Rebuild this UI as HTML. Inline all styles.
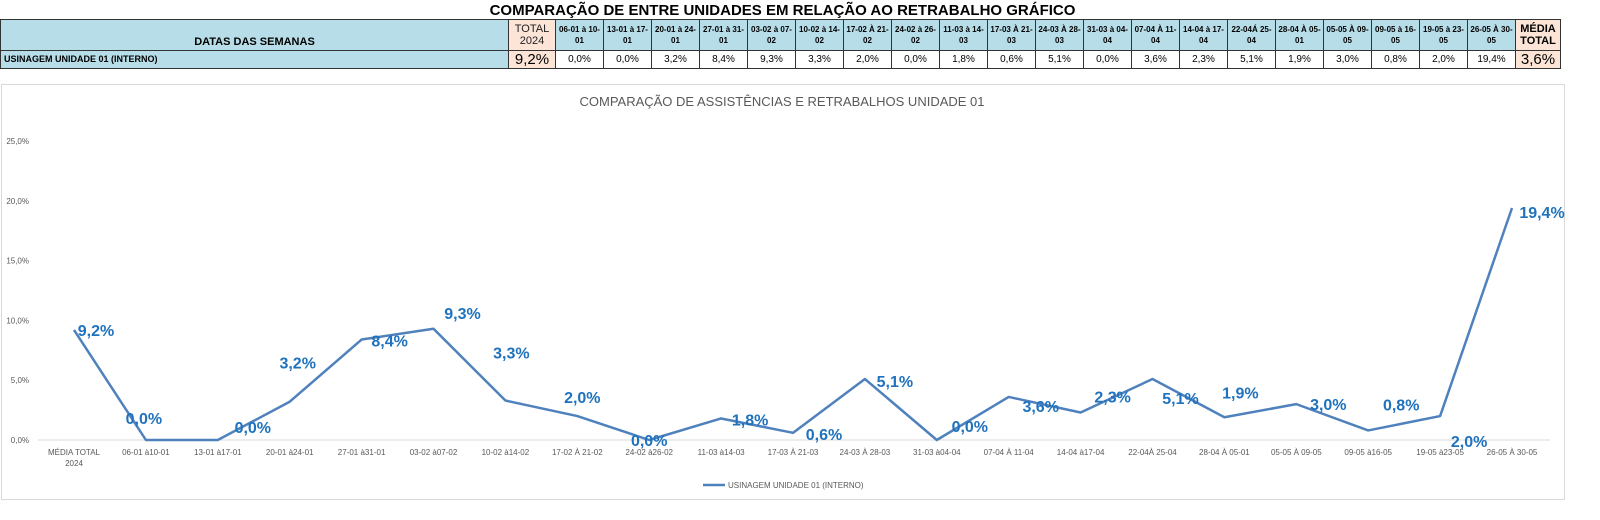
<!DOCTYPE html>
<html><head><meta charset="utf-8"><style>
body{margin:0;width:1600px;height:520px;background:#fff;font-family:"Liberation Sans",sans-serif;position:relative;overflow:hidden}
#title{position:absolute;left:0;width:1565px;top:2px;text-align:center;font-weight:bold;font-size:15px;color:#000}
table{position:absolute;left:0;top:19px;border-collapse:collapse;font-family:"Liberation Sans",sans-serif}
td{border:1px solid #333;padding:0;text-align:center;font-size:9px;line-height:11px}
.h{background:#b7dde8;font-weight:bold}
.o{background:#fce4d6}
svg{position:absolute;left:0;top:0}
</style></head><body>
<div id="title">COMPARAÇÃO DE ENTRE UNIDADES EM RELAÇÃO AO RETRABALHO GRÁFICO</div>
<table><tbody id="tb"></tbody></table>
<svg id="chart" width="1600" height="520"></svg>
<script>
const categories=["MÉDIA TOTAL 2024","06-01 à10-01","13-01 à17-01","20-01 à24-01","27-01 à31-01","03-02 à07-02","10-02 à14-02","17-02 À 21-02","24-02 à26-02","11-03 à14-03","17-03 À 21-03","24-03 À 28-03","31-03 à04-04","07-04 À 11-04","14-04 à17-04","22-04À 25-04","28-04 À 05-01","05-05 À 09-05","09-05 à16-05","19-05 à23-05","26-05 À 30-05"];
const headers=["06-01 à 10-|01","13-01 à 17-|01","20-01 à 24-|01","27-01 à 31-|01","03-02 à 07-|02","10-02 à 14-|02","17-02 À 21-|02","24-02 à 26-|02","11-03 à 14-|03","17-03 À 21-|03","24-03 À 28-|03","31-03 à 04-|04","07-04 À 11-|04","14-04 à 17-|04","22-04Á 25-|04","28-04 À 05-|01","05-05 À 09-|05","09-05 à 16-|05","19-05 à 23-|05","26-05 À 30-|05"];
const values=[9.2,0.0,0.0,3.2,8.4,9.3,3.3,2.0,0.0,1.8,0.6,5.1,0.0,3.6,2.3,5.1,1.9,3.0,0.8,2.0,19.4];
const tableTotal="9,2%";
const tableMean="3,6%";
const yTicks=[0,5,10,15,20,25];
const fmt=v=>v.toFixed(1).replace('.',',')+'%';

// table
const tb=document.getElementById('tb');
let r1='<tr style="height:31px"><td class="h" style="width:507px;font-size:11px;vertical-align:bottom;padding-bottom:2px">DATAS DAS SEMANAS</td><td class="o" style="width:46px;font-size:11px;line-height:12px;color:#222">TOTAL<br>2024</td>';
headers.forEach(h=>{const p=h.split('|');r1+='<td class="h" style="width:47px;font-size:8px">'+p[0]+'<br>'+p[1]+'</td>';});
r1+='<td class="o" style="width:44px;font-size:11px;line-height:12px;font-weight:bold">MÉDIA<br>TOTAL</td></tr>';
let r2='<tr style="height:18px"><td class="h" style="text-align:left;font-size:9px;padding-left:3px">USINAGEM UNIDADE 01 (INTERNO)</td><td class="o" style="font-size:15px">'+tableTotal+'</td>';
values.slice(1).forEach(v=>{r2+='<td style="font-size:10px">'+fmt(v)+'</td>';});
r2+='<td class="o" style="font-size:15px">'+tableMean+'</td></tr>';
tb.innerHTML=r1+r2;

// chart
const svg=document.getElementById('chart');const NS='http://www.w3.org/2000/svg';
function mk(t,a,txt){const e=document.createElementNS(NS,t);for(const k in a)e.setAttribute(k,a[k]);if(txt!==undefined)e.textContent=txt;svg.appendChild(e);return e;}
const x0=74,dx=71.9,yBase=440,yScale=(440-141)/25;
const X=i=>x0+i*dx, Y=v=>yBase-v*yScale;
let e=mk('rect',{x:1.5,y:84.5,width:1563,height:415,fill:'none',stroke:'#d9d9d9'});


e=mk('text',{x:782,y:106,'text-anchor':'middle','font-size':13,fill:'#595959'},'COMPARAÇÃO DE ASSISTÊNCIAS E RETRABALHOS UNIDADE 01');


yTicks.forEach(t=>{e=mk('text',{x:29,y:Y(t)+3,'text-anchor':'end','font-size':8,fill:'#595959'},fmt(t));

});
e=mk('line',{x1:38,x2:1550,y1:yBase,y2:yBase,stroke:'#d9d9d9'});


categories.forEach((c,i)=>{
 if(c==="MÉDIA TOTAL 2024"){
  e=mk('text',{x:X(i),y:455,'text-anchor':'middle','font-size':8,fill:'#595959'},'MÉDIA TOTAL');
  
  
  e=mk('text',{x:X(i),y:466,'text-anchor':'middle','font-size':8,fill:'#595959'},'2024');
  
  
 } else {
  e=mk('text',{x:X(i),y:455,'text-anchor':'middle','font-size':8,fill:'#595959'},c);
  
  
 }
});
e=mk('polyline',{points:values.map((v,i)=>X(i)+','+Y(v)).join(' '),fill:'none',stroke:'#4f81bd','stroke-width':2.5,'stroke-linejoin':'round'});


const offs=[[22,0],[-2,-22],[35,-13],[8,-39],[28,1],[29,-16],[6,-48],[5,-19],[0,0],[29,1],[31,1],[30,2],[33,-14],[32,9],[32,-16],[28,19],[16,-25],[32,0],[33,-26],[29,25],[30,4]];
values.forEach((v,i)=>{
 const o=offs[i]||[25,-10];
 e=mk('text',{x:X(i)+o[0],y:Y(v)+o[1]+6,'text-anchor':'middle','font-size':16,'font-weight':'bold',fill:'#1f72bd'},fmt(v));
 
 
});
e=mk('line',{x1:703,x2:725,y1:485,y2:485,stroke:'#4f81bd','stroke-width':2.5});


e=mk('text',{x:728,y:488,'font-size':8,fill:'#595959'},'USINAGEM UNIDADE 01 (INTERNO)');


</script>
</body></html>
